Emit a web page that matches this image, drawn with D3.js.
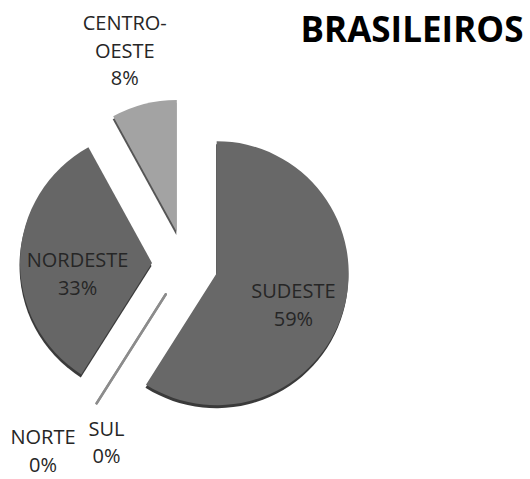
<!DOCTYPE html>
<html>
<head>
<meta charset="utf-8">
<script src="https://cdn.jsdelivr.net/npm/d3@7"></script>
<style>
  body { margin: 0; background: #fff; }
  svg { display: block; }
</style>
</head>
<body>
<svg id="chart" width="530" height="479"></svg>
<script>
// data
var regions = ['SUDESTE', 'SUL', 'NORTE', 'NORDESTE', 'CENTRO-OESTE'];
var shares = [59, 0, 0, 33, 8];
var title = 'BRASILEIROS';

// layout
var width = 530, height = 479;
var cx = 185, cy = 264, radius = 132, explode = 33, depth = 3;
var fills = {'SUDESTE': '#686868', 'NORDESTE': '#666666', 'CENTRO-OESTE': '#a3a3a3', 'SUL': '#8c8c8c', 'NORTE': '#8c8c8c'};
var sides = {'SUDESTE': '#3a3a3a', 'NORDESTE': '#3a3a3a', 'CENTRO-OESTE': '#555555'};
// label spot relative to the slice tip: angle shift from bisector (deg), distance as part of radius
var labelSpot = {
    'SUDESTE': [6.4, 0.63],
    'NORDESTE': [-10.2, 0.57],
    'CENTRO-OESTE': [-1.6, 1.43],
    'SUL': [-10.4, 1.23],
    'NORTE': [5.6, 1.53]
};
var lineH = 27.5, capH = 14;

var svg = d3.select('#chart');

var rows = regions.map(function(r, i) { return {name: r, value: shares[i]}; });
var total = d3.sum(shares);

var pie = d3.pie()
    .sort(null)
    .value(function(d) { return d.value; });

var arc = d3.arc()
    .innerRadius(0)
    .outerRadius(radius);

var slices = pie(rows);

function polar(angle, dist) {
    return [Math.sin(angle) * dist, -Math.cos(angle) * dist];
}

slices.forEach(function(s) {
    s.mid = (s.startAngle + s.endAngle) / 2;
    var off = polar(s.mid, explode);
    s.tx = cx + off[0];
    s.ty = cy + off[1];
});

var g = svg.append('g');

// side / depth of the slices
g.selectAll('path.side')
    .data(slices.filter(function(s) { return s.value > 0; }))
    .enter()
    .append('path')
    .attr('class', 'side')
    .attr('transform', function(s) { return 'translate(' + (s.tx - 0.5) + ',' + (s.ty + depth) + ')'; })
    .attr('d', arc)
    .attr('fill', function(s) { return sides[s.data.name]; });

// top faces
g.selectAll('path.top')
    .data(slices.filter(function(s) { return s.value > 0; }))
    .enter()
    .append('path')
    .attr('class', 'top')
    .attr('transform', function(s) { return 'translate(' + s.tx + ',' + s.ty + ')'; })
    .attr('d', arc)
    .attr('fill', function(s) { return fills[s.data.name]; });

// zero slices show up as a thin edge
g.selectAll('line.zero')
    .data(slices.filter(function(s) { return s.value === 0; }))
    .enter()
    .append('line')
    .attr('class', 'zero')
    .attr('x1', function(s) { return s.tx + polar(s.startAngle, 3)[0]; })
    .attr('y1', function(s) { return s.ty + polar(s.startAngle, 3)[1]; })
    .attr('x2', function(s) { return s.tx + polar(s.startAngle, radius)[0]; })
    .attr('y2', function(s) { return s.ty + polar(s.startAngle, radius)[1]; })
    .attr('stroke', function(s) { return fills[s.data.name]; })
    .attr('stroke-width', 2.5)
    .attr('stroke-linecap', 'round');

// labels
var labels = g.selectAll('text.lbl')
    .data(slices)
    .enter()
    .append('text')
    .attr('class', 'lbl')
    .attr('text-anchor', 'middle')
    .attr('font-family', '"Open Sans", sans-serif')
    .attr('font-size', 20)
    .attr('fill', '#262626');

labels.each(function(s) {
    var spot = labelSpot[s.data.name];
    var p = polar(s.mid + spot[0] * Math.PI / 180, spot[1] * radius);
    var x = s.tx + p[0], y = s.ty + p[1];
    var parts = s.data.name.split('-');
    var lines = parts.map(function(t, i) { return i < parts.length - 1 ? t + '-' : t; });
    lines.push(Math.round(s.data.value / total * 100) + '%');
    var y0 = y - ((lines.length - 1) * lineH - capH) / 2;
    d3.select(this).selectAll('tspan')
        .data(lines)
        .enter()
        .append('tspan')
        .attr('x', x)
        .attr('y', function(t, i) { return y0 + i * lineH; })
        .text(function(t) { return t; });
});

// title
svg.append('text')
    .attr('x', 412)
    .attr('y', 42)
    .attr('text-anchor', 'middle')
    .attr('font-family', '"Open Sans", sans-serif')
    .attr('font-weight', 'bold')
    .attr('font-size', 35)
    .attr('fill', '#000')
    .text(title);
</script>
</body>
</html>
